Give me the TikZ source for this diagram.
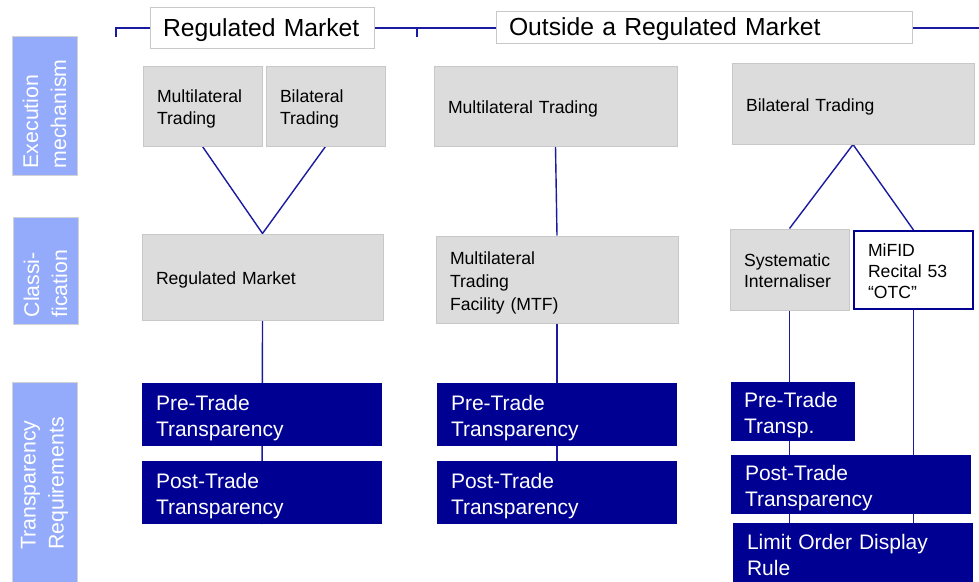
\documentclass[tikz,border=0pt]{standalone}
\usepackage{fontspec}
\setmainfont{Liberation Sans}
\definecolor{gfill}{RGB}{220,220,220}
\definecolor{gline}{RGB}{200,200,200}
\definecolor{navy}{RGB}{0,0,146}
\definecolor{lblue}{RGB}{26,26,160}
\definecolor{sidecol}{RGB}{148,171,252}
\newcommand\topstrut{\rule{0pt}{1.09em}}
\newcommand\botstrut{\rule[-0.21em]{0pt}{0pt}}
\pgfdeclarelayer{bg}
\pgfsetlayers{bg,main}
\begin{document}
\begin{tikzpicture}[x=1pt,y=-1pt,
  boxtext/.style={execute at begin node=\topstrut, execute at end node=\botstrut},
  gbox/.style={boxtext, fill=gfill, draw=gline, line width=1pt, inner xsep=14pt, inner ysep=0pt, align=left, font=\fontsize{17.6}{21.5}\selectfont},
  obox/.style={gbox, fill=white, draw=navy, line width=2pt},
  bbox/.style={boxtext, fill=navy, draw=none, text=white, inner xsep=14pt, inner ysep=0pt, align=left, font=\fontsize{21}{26.5}\selectfont},
  hbox/.style={fill=white, draw=gline, line width=1pt, inner xsep=13pt, inner ysep=0pt, text depth=0pt, align=left, font=\fontsize{24.7}{30}\selectfont},
  sbox/.style={fill=sidecol, draw=gline!80, line width=1pt, minimum width=65pt, inner sep=0pt},
  stext/.style={rotate=90, anchor=west, align=left, text=white, inner sep=0pt, font=\fontsize{21.3}{28}\selectfont},
  conn/.style={draw=lblue, line width=1.4pt}]
\useasboundingbox (0,0) rectangle (979,581);

% header
\node[hbox, text width=198pt, minimum height=41pt] (hRM) at (262,27.5) {Regulated Market};
\node[hbox, text width=390pt, minimum height=32pt] (hOut) at (704,27) {Outside a Regulated Market};
\coordinate (hA) at (116,37);
\coordinate (hB) at (116,28);
\coordinate (hC) at (979,28);
\coordinate (hD) at (417,28);
\coordinate (hE) at (417,37);

% side labels
\node[sbox, minimum height=139pt] (sExec) at (44.5,105.5) {};
\node[sbox, minimum height=107pt] (sClass) at (45.5,270.5) {};
\node[sbox, minimum height=208pt] (sTransp) at (44.5,486) {};
\node[stext] (tExec) at ([yshift=7pt]sExec.south) {Execution\\mechanism};
\node[stext] (tClass) at ([yshift=7pt]sClass.south) {Classi-\\fication};
\node[stext] (tTransp) at (44.5,550) {Transparency\\Requirements};

% execution mechanism
\node[gbox, text width=91pt, minimum height=80pt] (eRMm) at (202.5,106) {Multilateral\\Trading};
\node[gbox, text width=91pt, minimum height=80pt] (eRMb) at (325.5,106) {Bilateral\\Trading};
\node[gbox, text width=215pt, minimum height=80pt] (eMTF) at (555.5,106) {Multilateral Trading};
\node[gbox, text width=214pt, minimum height=81pt] (eBil) at (853,103.5) {Bilateral Trading};

% classification
\node[gbox, text width=213pt, minimum height=86pt] (cRM) at (262.5,277) {Regulated Market};
\node[gbox, text width=214pt, minimum height=87pt, font=\fontsize{17.6}{23}\selectfont] (cMTF) at (557,279.5) {Multilateral\\Trading\\Facility (MTF)};
\node[gbox, text width=91pt, minimum height=81pt, font=\fontsize{17.6}{21}\selectfont] (cSI) at (789.5,269.5) {Systematic\\Internaliser};
\node[obox, text width=91pt, minimum height=78pt, font=\fontsize{17.6}{21}\selectfont] (cOTC) at (913.5,270) {MiFID\\Recital 53\\“OTC”};

% transparency
\node[bbox, text width=212pt, minimum height=63pt] (pre1) at (262,414.5) {Pre-Trade\\Transparency};
\node[bbox, text width=212pt, minimum height=63pt] (post1) at (262,492.5) {Post-Trade\\Transparency};
\node[bbox, text width=212pt, minimum height=63pt] (pre2) at (557,414.5) {Pre-Trade\\Transparency};
\node[bbox, text width=212pt, minimum height=63pt] (post2) at (557,492.5) {Post-Trade\\Transparency};
\node[bbox, inner xsep=13pt, text width=98pt, minimum height=59pt] (pre3) at (793,411.5) {Pre-Trade\\Transp.};
\node[bbox, text width=212pt, minimum height=59pt] (post3) at (851,484.5) {Post-Trade\\Transparency};
\node[bbox, execute at begin node={}, execute at end node={}, text width=212pt, minimum height=61pt] (lod) at (853,553.5) {Limit Order Display\\Rule};

\begin{pgfonlayer}{bg}
\draw[conn] (hA) -- (hB) -- (hC);
\draw[conn] (hD) -- (hE);
\draw[conn] (eRMm.south) -- (cRM.north) -- (eRMb.south);
\draw[conn] (eMTF.south) -- (cMTF.north);
\draw[conn] (cSI.north) -- (eBil.south) -- (cOTC.north);
\draw[conn] (cRM.south) -- (post1.south);
\draw[conn] (cMTF.south) -- (post2.south);
\draw[conn] (cSI.south) -- (cSI.south |- lod.north);
\draw[conn] (cOTC.south) -- (cOTC.south |- lod.north);
\end{pgfonlayer}
\end{tikzpicture}
\end{document}
